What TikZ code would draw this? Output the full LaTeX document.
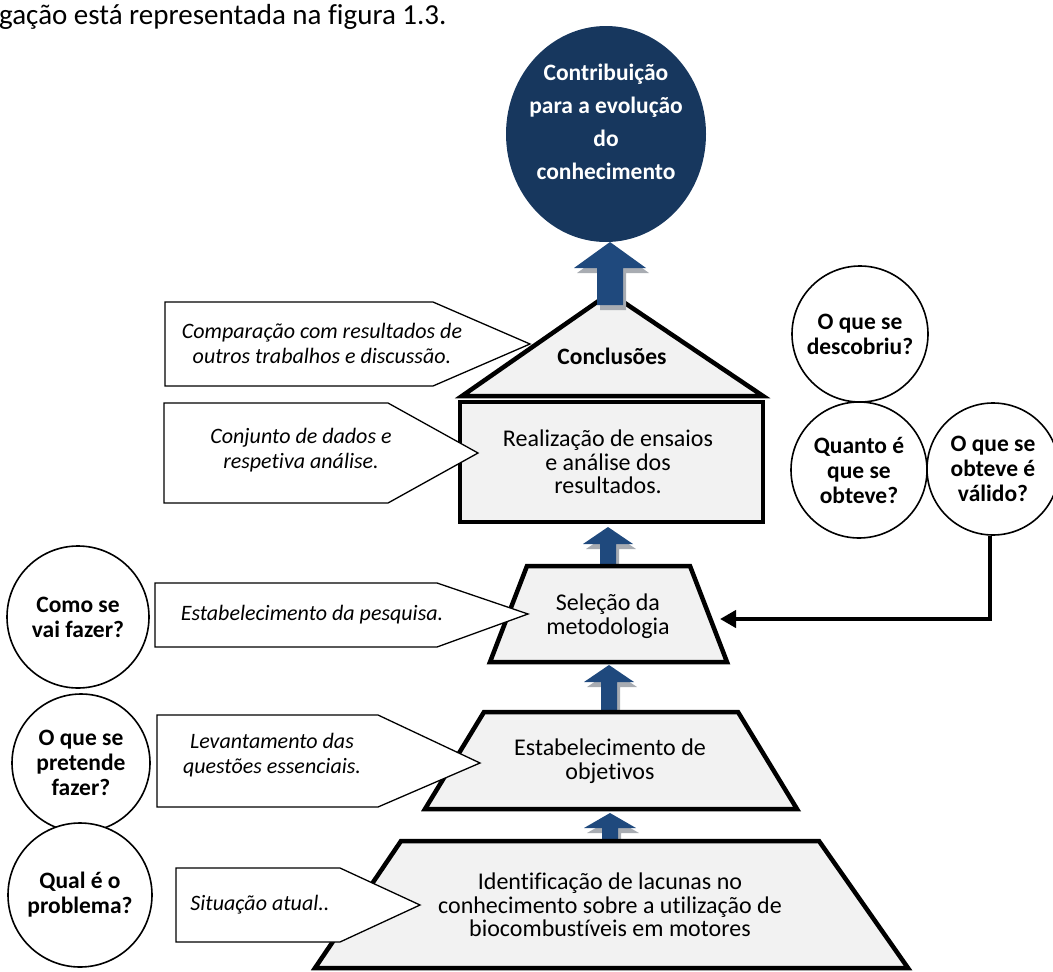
\documentclass[tikz,border=0pt]{standalone}
\usepackage{fontspec}
\setmainfont{Carlito}[Ligatures={NoCommon}]
\usetikzlibrary{arrows.meta,shapes.geometric}

\definecolor{navy}{RGB}{23,55,94}
\definecolor{arrowblue}{RGB}{31,73,125}
\definecolor{paneGray}{RGB}{242,242,242}
\definecolor{shadowGray}{RGB}{168,172,178}

\newcommand\bodyfont{\fontsize{24}{23.5}\selectfont}
\newcommand\notefont{\fontsize{22}{25}\selectfont\itshape}
\newcommand\qfont{\fontsize{23.5}{25}\selectfont\bfseries}

% block arrow pointing up: centre x, tip y, head base y, shaft bottom y, head half width, shaft half width
\newcommand\liftarrow[6]{%
  \foreach \dx/\dy/\col in {3/5/shadowGray,0/0/arrowblue}{%
    \fill[\col] ({#1+\dx},{#2+\dy}) -- ({#1+#5+\dx},{#3+\dy}) -- ({#1+#6+\dx},{#3+\dy})
      -- ({#1+#6+\dx},{#4+\dy}) -- ({#1-#6+\dx},{#4+\dy}) -- ({#1-#6+\dx},{#3+\dy})
      -- ({#1-#5+\dx},{#3+\dy}) -- cycle;
  }}

\tikzset{
  stage/.style={draw=black, line width=4.5pt, fill=paneGray, line join=miter},
  callout/.style={draw=black, line width=1.3pt, fill=white, line join=miter},
  stagetext/.style={align=center, font=\bodyfont, inner sep=0pt},
  notetext/.style={align=center, font=\notefont, inner sep=0pt},
  question/.style={circle, draw=black, line width=1.6pt, fill=white, minimum size=#1,
    inner sep=0pt, align=center, font=\qfont},
  feedback/.style={line width=4.5pt, -{Triangle[length=16pt,width=17pt]}}
}

\begin{document}
\begin{tikzpicture}[x=1pt,y=-1pt]
\useasboundingbox (0,0) rectangle (1053,972);

% running text above the figure
\node[anchor=west, inner sep=0pt, font=\fontsize{29}{34}\selectfont] (caption) at (-1,17)
  {gação está representada na figura 1.3.};

% goal
\node[ellipse, fill=navy, minimum width=200pt, minimum height=216pt, inner sep=0pt] (goal) at (606,134) {};
\node[align=center, text=white, font=\fontsize{23.5}{33}\selectfont\bfseries, inner sep=0pt]
  (goaltext) at (606,122) {Contribuição\\para a evolução\\do\\conhecimento};

% small arrows between the stages
\liftarrow{608}{527}{544}{566}{25}{8}
\liftarrow{609}{665}{682}{712}{25}{8}
\liftarrow{610}{813}{828}{840}{26}{8}

% stages of the pyramid
\draw[stage] (462,396) -- (610,293) -- (763,396) -- cycle;
\draw[stage] (460,402) rectangle (763,522);
\draw[stage] (527,566) -- (690,566) -- (727,662) -- (490,662) -- cycle;
\draw[stage] (484,712) -- (738,712) -- (797,809) -- (425,809) -- cycle;
\draw[stage] (401,841) -- (819,841) -- (908,968) -- (315,968) -- cycle;

% big arrow into the goal
\liftarrow{610}{242}{268}{305}{36}{13}

\node[stagetext, font=\fontsize{23.5}{25}\selectfont\bfseries] (concl) at (612,356) {Conclusões};
\node[stagetext] (tests) at (608,462) {Realização de ensaios\\e análise dos\\resultados.};
\node[stagetext] (method) at (608,616) {Seleção da\\metodologia};
\node[stagetext] (aims) at (610,761) {Estabelecimento de\\objetivos};
\node[stagetext] (gaps) at (610,905) {Identificação de lacunas no\\conhecimento sobre a utilização de\\biocombustíveis em motores};

% side notes
\draw[callout] (165,302) -- (433,302) -- (530,344) -- (433,386) -- (165,386) -- cycle;
\node[notetext] (n1) at (322,343) {Comparação com resultados de\\outros trabalhos e discussão.};
\draw[callout] (164,403) -- (388,403) -- (478,453) -- (388,503) -- (164,503) -- cycle;
\node[notetext] (n2) at (301,450) {Conjunto de dados e\\respetiva análise.};
\draw[callout] (155,583) -- (437,583) -- (528,614) -- (437,647) -- (155,647) -- cycle;
\node[notetext] (n3) at (312,615) {Estabelecimento da pesquisa.};
\draw[callout] (157,715) -- (378,715) -- (480,763) -- (378,807) -- (157,807) -- cycle;
\node[notetext] (n4) at (272,755) {Levantamento das\\questões essenciais.};
\draw[callout] (176,868) -- (340,868) -- (420,905) -- (340,942) -- (176,942) -- cycle;
\node[notetext] (n5) at (260,905) {Situação atual..};

% guiding questions
\node[question=142pt] (qhow) at (78,617) {Como se\\vai fazer?};
\node[question=138pt] (qwhat) at (81,763) {O que se\\pretende\\fazer?};
\node[question=144pt] (qprob) at (80,895) {Qual é o\\problema?};
\node[question=136pt] (qfound) at (860,334) {O que se\\descobriu?};
\node[question=136pt] (qmuch) at (859,470) {Quanto é\\que se\\obteve?};
\node[question=132pt] (qvalid) at (993,469) {O que se\\obteve é\\válido?};

% feedback from validation to the method
\coordinate (methodin) at (720,619);
\draw[feedback] ([xshift=-3pt]qvalid.south) |- (methodin);
\end{tikzpicture}
\end{document}
